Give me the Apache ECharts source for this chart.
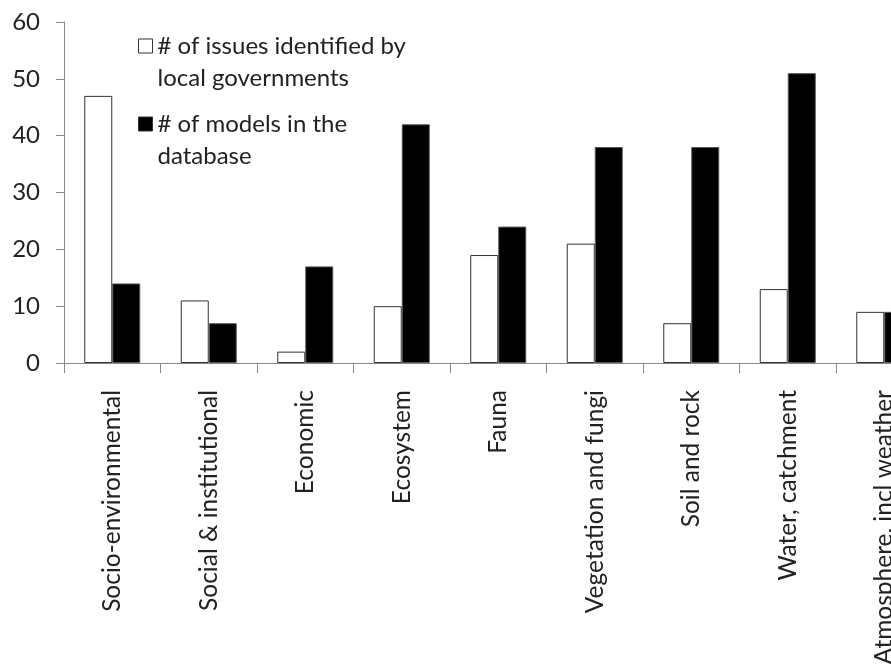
<!DOCTYPE html>
<html>
<head>
<meta charset="utf-8">
<script src="https://cdn.jsdelivr.net/npm/echarts@6/dist/echarts.min.js"></script>
<style>
  html, body { margin: 0; padding: 0; background: #fff; }
  #chart { width: 891px; height: 670px; }
</style>
</head>
<body>
<div id="chart"></div>
<script>
// Issue categories along the x axis
const categories = [
  'Socio-environmental',
  'Social & institutional',
  'Economic',
  'Ecosystem',
  'Fauna',
  'Vegetation and fungi',
  'Soil and rock',
  'Water, catchment',
  'Atmosphere, incl weather'
];

// Series values
const issuesByLocalGov = [47, 11, 2, 10, 19, 21, 7, 13, 9];
const modelsInDatabase = [14, 7, 17, 42, 24, 38, 38, 51, 9];

// Series names (shown in the legend on two lines)
const issuesName = '# of issues identified by\nlocal governments';
const modelsName = '# of models in the\ndatabase';

// Value axis ticks
const yMin = 0;
const yMax = 60;
const yStep = 10;

const FONT = 'Lato, "Open Sans", sans-serif';
const AXIS_GREY = '#878787';

const chart = echarts.init(document.getElementById('chart'), null, { renderer: 'canvas' });

chart.setOption({
  animation: false,
  backgroundColor: '#ffffff',
  grid: {
    left: 64,
    top: 22,
    bottom: 307,
    // the plot runs past the right edge of the page, so the last group is cut
    width: 868.5,
    outerBoundsMode: 'none',
    containLabel: false
  },
  legend: {
    orient: 'vertical',
    left: 138,
    top: -2,
    padding: 0,
    itemGap: -18,
    itemWidth: 14,
    itemHeight: 14,
    icon: 'rect',
    data: [issuesName, modelsName],
    // leading blank line keeps the swatch level with the first text line
    formatter: function (name) { return '\n' + name; },
    textStyle: {
      fontFamily: FONT,
      fontSize: 24,
      color: '#222',
      lineHeight: 32
    },
    itemStyle: { borderColor: '#333', borderWidth: 1 }
  },
  xAxis: {
    type: 'category',
    data: categories,
    boundaryGap: true,
    axisLine: { show: true, lineStyle: { color: AXIS_GREY, width: 1 } },
    axisTick: { show: true, length: 10, alignWithLabel: false, lineStyle: { color: AXIS_GREY } },
    axisLabel: {
      rotate: 90,
      interval: 0,
      margin: 27,
      fontFamily: FONT,
      fontSize: 24.5,
      color: '#222'
    },
    splitLine: { show: false }
  },
  yAxis: {
    type: 'value',
    min: yMin,
    max: yMax,
    interval: yStep,
    axisLine: { show: true, lineStyle: { color: AXIS_GREY, width: 1 } },
    axisTick: { show: true, length: 8, lineStyle: { color: AXIS_GREY } },
    axisLabel: {
      margin: 24,
      fontFamily: FONT,
      fontSize: 24,
      color: '#222'
    },
    splitLine: { show: false }
  },
  series: [
    {
      name: issuesName,
      type: 'bar',
      data: issuesByLocalGov,
      barWidth: 28,
      barGap: '0%',
      itemStyle: { color: '#ffffff', borderColor: '#333', borderWidth: 1 }
    },
    {
      name: modelsName,
      type: 'bar',
      data: modelsInDatabase,
      barWidth: 28,
      barGap: '0%',
      itemStyle: { color: '#000000', borderColor: '#555', borderWidth: 1 }
    }
  ]
});
</script>
</body>
</html>
